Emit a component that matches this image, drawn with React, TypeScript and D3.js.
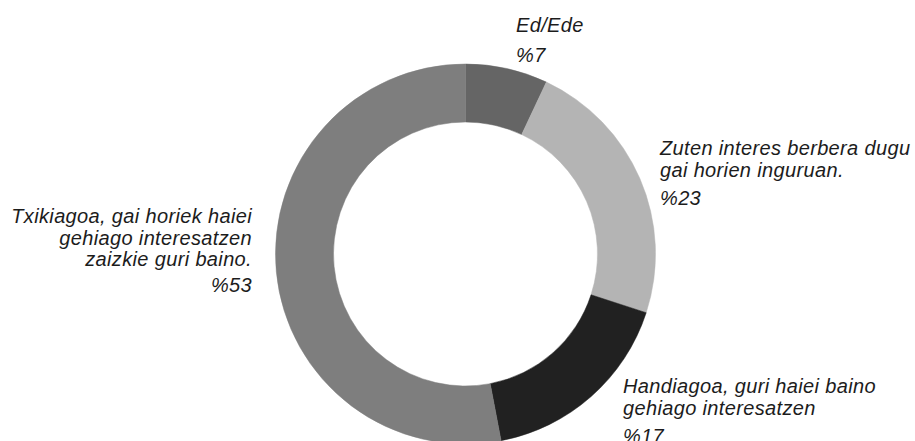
import React from "react";
import * as d3 from "d3";

const categories: string[][] = [
  ["Ed/Ede"],
  ["Zuten interes berbera dugu", "gai horien inguruan."],
  ["Handiagoa, guri haiei baino", "gehiago interesatzen"],
  ["Txikiagoa, gai horiek haiei", "gehiago interesatzen", "zaizkie guri baino."],
];
const values: number[] = [7, 23, 17, 53];
const percentLabels: string[] = ["%7", "%23", "%17", "%53"];

const palette = ["#656565", "#b4b4b4", "#212121", "#7e7e7e"];

// label layout (anchor, x, first baseline, percent baseline)
const labelLayout = [
  { anchor: "start", x: 516, y: 32, py: 62 },
  { anchor: "start", x: 660, y: 155, py: 205 },
  { anchor: "start", x: 623, y: 393, py: 443 },
  { anchor: "end", x: 252, y: 223, py: 292 },
];

const W = 915;
const H = 441;
const cx = 465.5;
const cy = 254;
const outerR = 190;
const innerR = 132;
const lineH = 21.5;

export default function App() {
  const pie = d3
    .pie<number>()
    .sort(null)
    .value((d) => d)
    .startAngle(0)
    .endAngle(2 * Math.PI);
  const arcs = pie(values);
  const arc = d3.arc<d3.PieArcDatum<number>>().innerRadius(innerR).outerRadius(outerR);

  return (
    <svg
      width={W}
      height={H}
      style={{ position: "absolute", left: 0, top: 0, background: "#fff" }}
      fontFamily="'Liberation Sans', Arial, Helvetica, sans-serif"
    >
      <rect x={0} y={0} width={W} height={H} fill="#fff" />
      <g transform={`translate(${cx},${cy})`}>
        {arcs.map((a, i) => (
          <path key={i} d={arc(a) || ""} fill={palette[i]} stroke={palette[i]} strokeWidth={0.5} />
        ))}
      </g>
      {categories.map((lines, i) => {
        const l = labelLayout[i];
        return (
          <g
            key={i}
            fontStyle="italic"
            fontSize={20}
            letterSpacing={0.35}
            fill="#1c1c1c"
            textAnchor={l.anchor as any}
          >
            {lines.map((t, j) => (
              <text key={j} x={l.x} y={l.y + j * lineH}>
                {t}
              </text>
            ))}
            <text x={l.x} y={l.py}>
              {percentLabels[i]}
            </text>
          </g>
        );
      })}
    </svg>
  );
}
